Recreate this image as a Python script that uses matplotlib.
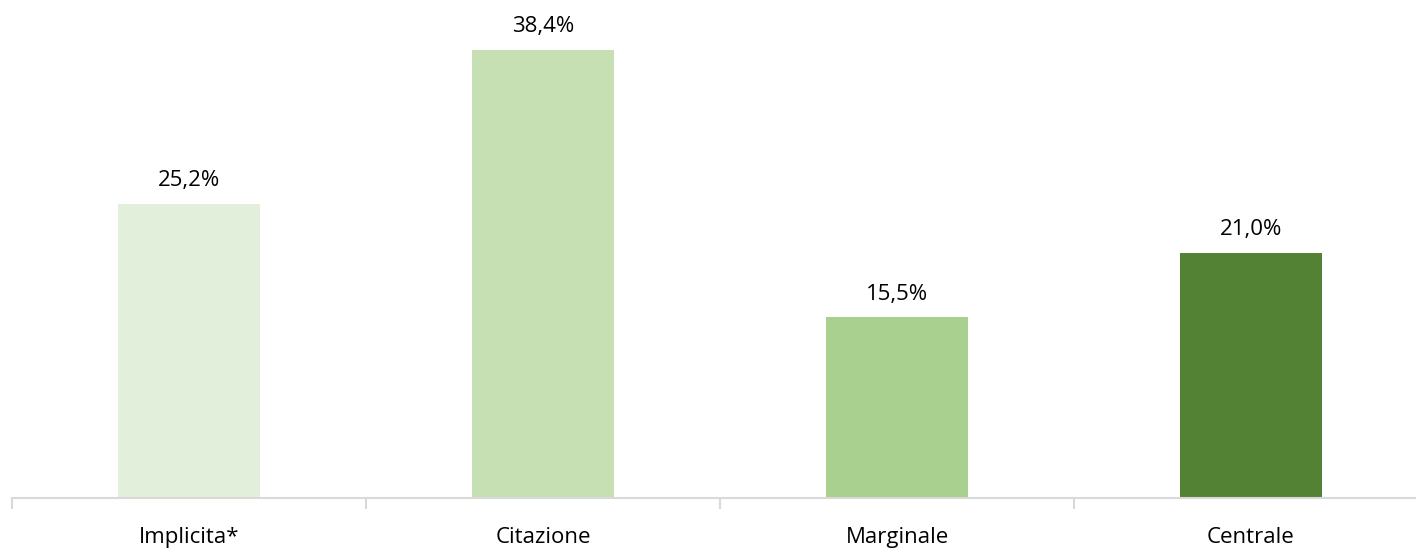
import matplotlib.pyplot as plt
import numpy as np

categories = ['Implicita*', 'Citazione', 'Marginale', 'Centrale']
values = [25.2, 38.4, 15.5, 21.0]
labels = ['25,2%', '38,4%', '15,5%', '21,0%']
colors = ['#E2EFDA', '#C6E0B4', '#A9D08E', '#548235']

plt.rcParams['font.family'] = ['Open Sans', 'DejaVu Sans']

W, H = 1416, 548
fig = plt.figure(figsize=(W / 100, H / 100), dpi=100)
# axes spans x 12..1428 px, y 0..498 px (from top)
ax = fig.add_axes([12 / W, (H - 498) / H, 1416 / W, 498 / H])

x = np.arange(len(categories))
ax.bar(x, values, width=0.4, color=colors)
for xi, v, lab in zip(x, values, labels):
    ax.annotate(lab, (xi, v), xytext=(0, 9), textcoords='offset points',
                ha='center', va='bottom', fontsize=16, color='#000000')

ax.set_xlim(-0.5, len(categories) - 0.5)
ax.set_ylim(0, 42.67)

for s in ['top', 'right', 'left']:
    ax.spines[s].set_visible(False)
ax.spines['bottom'].set_color('#D9D9D9')
ax.spines['bottom'].set_linewidth(1.5)
ax.set_yticks([])

ax.set_xticks(np.arange(-0.5, len(categories) + 0.5, 1.0))
ax.set_xticklabels([])
ax.tick_params(axis='x', which='major', length=8, color='#D9D9D9', width=1.5)
ax.set_xticks(x, minor=True)
ax.set_xticklabels(categories, minor=True, fontsize=16)
ax.tick_params(axis='x', which='minor', length=0, pad=21)

fig.savefig('out.png', dpi=100)
